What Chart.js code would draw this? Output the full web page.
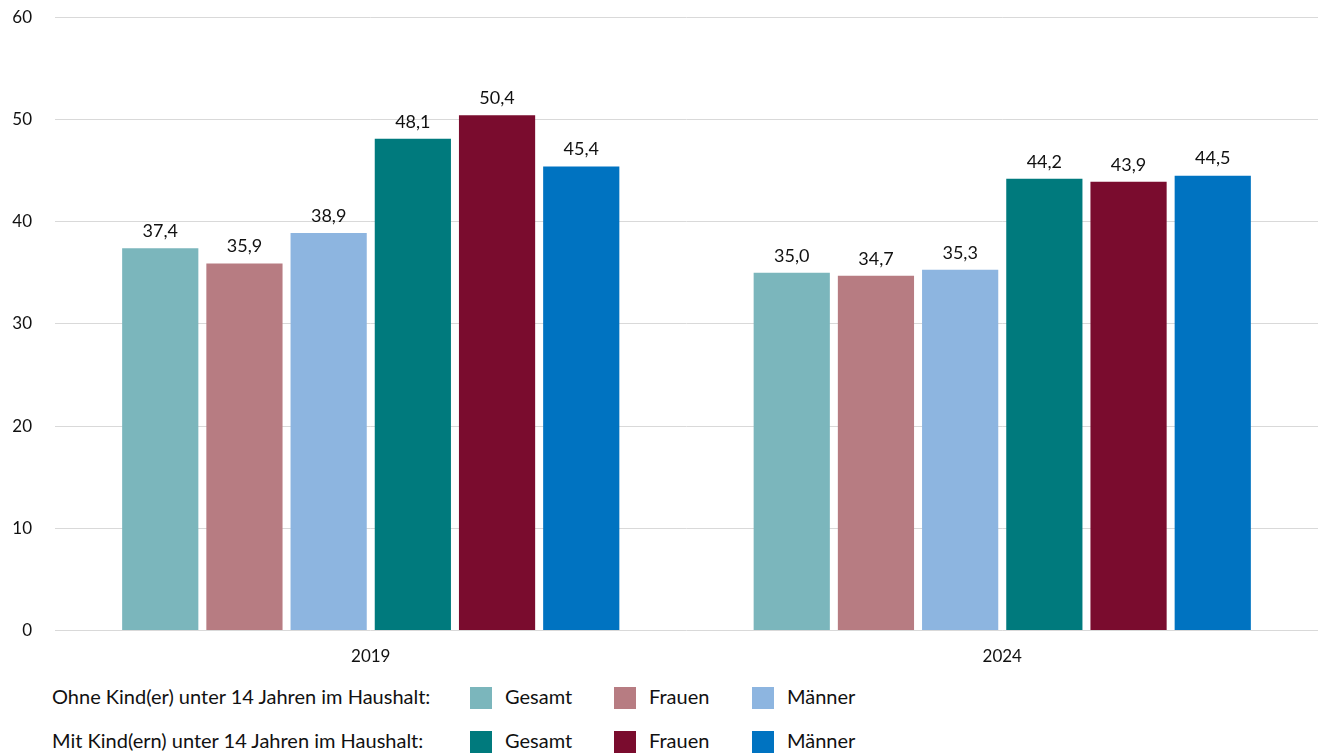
<!DOCTYPE html>
<html lang="de">
<head>
<meta charset="utf-8">
<script src="https://cdn.jsdelivr.net/npm/chart.js@4/dist/chart.umd.min.js"></script>
<style>
  html, body { margin: 0; padding: 0; background: #fff; }
  body { width: 1318px; height: 756px; position: relative; overflow: hidden; font-family: "Lato", sans-serif; color: #111; }
  #wrap { position: absolute; left: 0; top: -16px; width: 1318px; height: 691px; }
  .legend { position: absolute; left: 0; top: 0; width: 1318px; font-size: 20px; }
  .row { position: absolute; left: 52px; height: 22px; }
  .row .lbl { position: absolute; left: 0; top: -3px; white-space: nowrap; }
  .item { position: absolute; top: 0; white-space: nowrap; }
  .item .sw { position: absolute; left: 0; top: 0; width: 22px; height: 22px; }
  .item .tx { position: absolute; left: 35px; top: -3px; }
</style>
</head>
<body>
<div id="wrap"><canvas id="chart"></canvas></div>
<div class="legend" id="legend"></div>
<script>
// --- data ---
const years = ["2019", "2024"];
const seriesNames = ["Gesamt", "Frauen", "Männer", "Gesamt", "Frauen", "Männer"];
const ohneGesamt = [37.4, 35.0];
const ohneFrauen = [35.9, 34.7];
const ohneMaenner = [38.9, 35.3];
const mitGesamt = [48.1, 44.2];
const mitFrauen = [50.4, 43.9];
const mitMaenner = [45.4, 44.5];
const yTicks = [0, 10, 20, 30, 40, 50, 60];
const rowLabels = ["Ohne Kind(er) unter 14 Jahren im Haushalt:", "Mit Kind(ern) unter 14 Jahren im Haushalt:"];

const colors = ["#7bb6bc", "#b77c82", "#8db5e0", "#007a7d", "#7a0c2e", "#0073c1"];
const seriesData = [ohneGesamt, ohneFrauen, ohneMaenner, mitGesamt, mitFrauen, mitMaenner];

const fmt = v => v.toFixed(1).replace(".", ",");

// value labels above bars
const valueLabels = {
  id: "valueLabels",
  afterDatasetsDraw(chart) {
    const ctx = chart.ctx;
    ctx.save();
    ctx.font = "18px Lato, sans-serif";
    ctx.fillStyle = "#111";
    ctx.textAlign = "center";
    ctx.textBaseline = "bottom";
    chart.data.datasets.forEach((ds, i) => {
      chart.getDatasetMeta(i).data.forEach((bar, j) => {
        ctx.fillText(fmt(ds.data[j]), bar.x, bar.y - 8);
      });
    });
    ctx.restore();
  }
};

Chart.defaults.font.family = "Lato, sans-serif";
Chart.defaults.color = "#111";

new Chart(document.getElementById("chart"), {
  type: "bar",
  data: {
    labels: years,
    datasets: seriesData.map((d, i) => ({
      label: seriesNames[i],
      data: d,
      backgroundColor: colors[i],
      categoryPercentage: 0.80,
      barPercentage: 0.905
    }))
  },
  options: {
    responsive: true,
    maintainAspectRatio: false,
    animation: false,
    layout: { padding: { top: 8, right: 0, left: 0, bottom: 0 } },
    plugins: { legend: { display: false }, tooltip: { enabled: false } },
    scales: {
      x: {
        grid: { display: false },
        border: { display: false },
        ticks: { font: { size: 17 }, padding: 8 }
      },
      y: {
        min: 0,
        max: 60,
        afterFit(scale) { scale.width = 55; },
        afterBuildTicks(scale) { scale.ticks = yTicks.map(v => ({ value: v })); },
        grid: { color: "#d9d9d9", drawTicks: false },
        border: { display: false },
        ticks: { font: { size: 17 }, padding: 23 }
      }
    }
  },
  plugins: [valueLabels]
});

// HTML legend
const legend = document.getElementById("legend");
const rowTops = [687, 731];
const itemLefts = [418, 562, 700];
rowLabels.forEach((txt, r) => {
  const row = document.createElement("div");
  row.className = "row";
  row.style.top = rowTops[r] + "px";
  row.innerHTML = '<span class="lbl">' + txt + '</span>';
  for (let k = 0; k < 3; k++) {
    const idx = r * 3 + k;
    const it = document.createElement("div");
    it.className = "item";
    it.style.left = itemLefts[k] + "px";
    it.innerHTML = '<span class="sw" style="background:' + colors[idx] + '"></span><span class="tx">' + seriesNames[idx] + '</span>';
    row.appendChild(it);
  }
  legend.appendChild(row);
});
</script>
</body>
</html>
